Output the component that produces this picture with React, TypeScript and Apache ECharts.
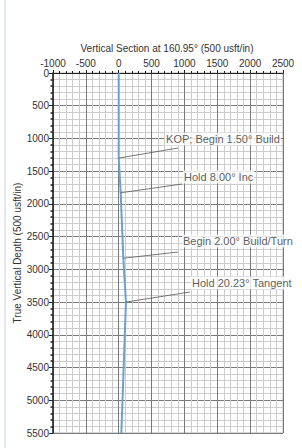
import React, { useEffect, useRef } from "react";
import * as echarts from "echarts";

// Well path: vertical section (usft) vs true vertical depth (usft)
const wellVS = [0, 0, 30, 70, 110, 40];
const wellTVD = [0, 1300, 1830, 2830, 3500, 5500];

// Annotations
const annoText = [
  "KOP; Begin 1.50° Build",
  "Hold 8.00° Inc",
  "Begin 2.00° Build/Turn",
  "Hold 20.23° Tangent",
];
const annoPointVS = [0, 30, 70, 110];
const annoPointTVD = [1300, 1830, 2830, 3500];
const annoLeaderVS = [903, 966, 903, 1085];
const annoLeaderTVD = [1146, 1696, 2735, 3346];
const annoLabelVS = [705, 979, 963, 1100];
const annoLabelTVD = [1008, 1589, 2567, 3209];

const xTitle = "Vertical Section at 160.95° (500 usft/in)";
const yTitle = "True Vertical Depth (500 usft/in)";

const FONT = "'Liberation Sans', Arial, sans-serif";

export default function App() {
  const ref = useRef<HTMLDivElement>(null);
  useEffect(() => {
    if (!ref.current) return;
    const chart = echarts.init(ref.current, undefined, { renderer: "svg" });
    const wellData = wellVS.map((v, i) => [v, wellTVD[i]]);
    const leaders = annoText.map((_, i) => [
      { coord: [annoPointVS[i], annoPointTVD[i]] },
      { coord: [annoLeaderVS[i], annoLeaderTVD[i]] },
    ]);
    const labelData = annoText.map((t, i) => ({
      value: [annoLabelVS[i], annoLabelTVD[i]],
      name: t,
    }));
    chart.setOption({
      animation: false,
      backgroundColor: "#ffffff",
      textStyle: { fontFamily: FONT },
      grid: {
        left: 53,
        top: 73,
        width: 230,
        height: 360,
        show: true,
        borderColor: "#b0b0b0",
        borderWidth: 1,
      },
      graphic: [
        {
          type: "rect",
          shape: { x: 4, y: 0, width: 2, height: 448 },
          style: { fill: "#e3e7ef" },
          silent: true,
        },
        {
          type: "text",
          x: 167,
          y: 48,
          style: {
            text: xTitle,
            fill: "#333",
            font: `10px ${FONT}`,
            align: "center",
            verticalAlign: "middle",
          },
        },
        {
          type: "text",
          x: 17,
          y: 253,
          rotation: Math.PI / 2,
          style: {
            text: yTitle,
            fill: "#333",
            font: `10px ${FONT}`,
            align: "center",
            verticalAlign: "middle",
          },
        },
      ],
      xAxis: {
        type: "value",
        position: "top",
        min: -1000,
        max: 2500,
        interval: 500,
        axisLine: { show: true, onZero: false, lineStyle: { color: "#222", width: 1 } },
        axisTick: { show: true, length: 3, lineStyle: { color: "#222" } },
        minorTick: { show: true, splitNumber: 5, length: 2, lineStyle: { color: "#222" } },
        axisLabel: {
          color: "#333",
          fontSize: 10,
          margin: 5,
          fontFamily: FONT,
          formatter: (v: number) => String(v),
        },
        splitLine: { show: true, lineStyle: { color: "#7a7a7a", width: 1 } },
        minorSplitLine: { show: true, lineStyle: { color: "#cccccc", width: 1 } },
      },
      yAxis: {
        type: "value",
        inverse: true,
        min: 0,
        max: 5500,
        interval: 500,
        axisLine: { show: true, onZero: false, lineStyle: { color: "#222", width: 1.5 } },
        axisTick: { show: true, length: 4, lineStyle: { color: "#222" } },
        minorTick: { show: true, splitNumber: 5, length: 2.5, lineStyle: { color: "#222", width: 1.5 } },
        axisLabel: {
          color: "#333",
          fontSize: 10,
          margin: 4,
          fontFamily: FONT,
          formatter: (v: number) => String(v),
        },
        splitLine: { show: true, lineStyle: { color: "#7a7a7a", width: 1 } },
        minorSplitLine: { show: true, lineStyle: { color: "#cccccc", width: 1 } },
      },
      series: [
        {
          type: "line",
          data: wellData,
          showSymbol: false,
          lineStyle: { color: "#6b9fda", width: 2 },
          z: 3,
          markLine: {
            silent: true,
            symbol: ["none", "none"],
            label: { show: false },
            lineStyle: { color: "#555", width: 0.8, type: "solid" },
            data: leaders,
          },
        },
        {
          type: "scatter",
          data: labelData,
          symbolSize: 0,
          z: 5,
          silent: true,
          label: {
            show: true,
            position: "right",
            distance: 0,
            formatter: (p: any) => p.name,
            color: "#333",
            fontSize: 11,
            fontFamily: FONT,
            backgroundColor: "#ffffff",
            padding: [1, 1],
          },
        },
      ],
    });
    return () => chart.dispose();
  }, []);
  return (
    <div
      ref={ref}
      style={{ position: "fixed", left: 0, top: 0, width: 302, height: 448 }}
    />
  );
}
